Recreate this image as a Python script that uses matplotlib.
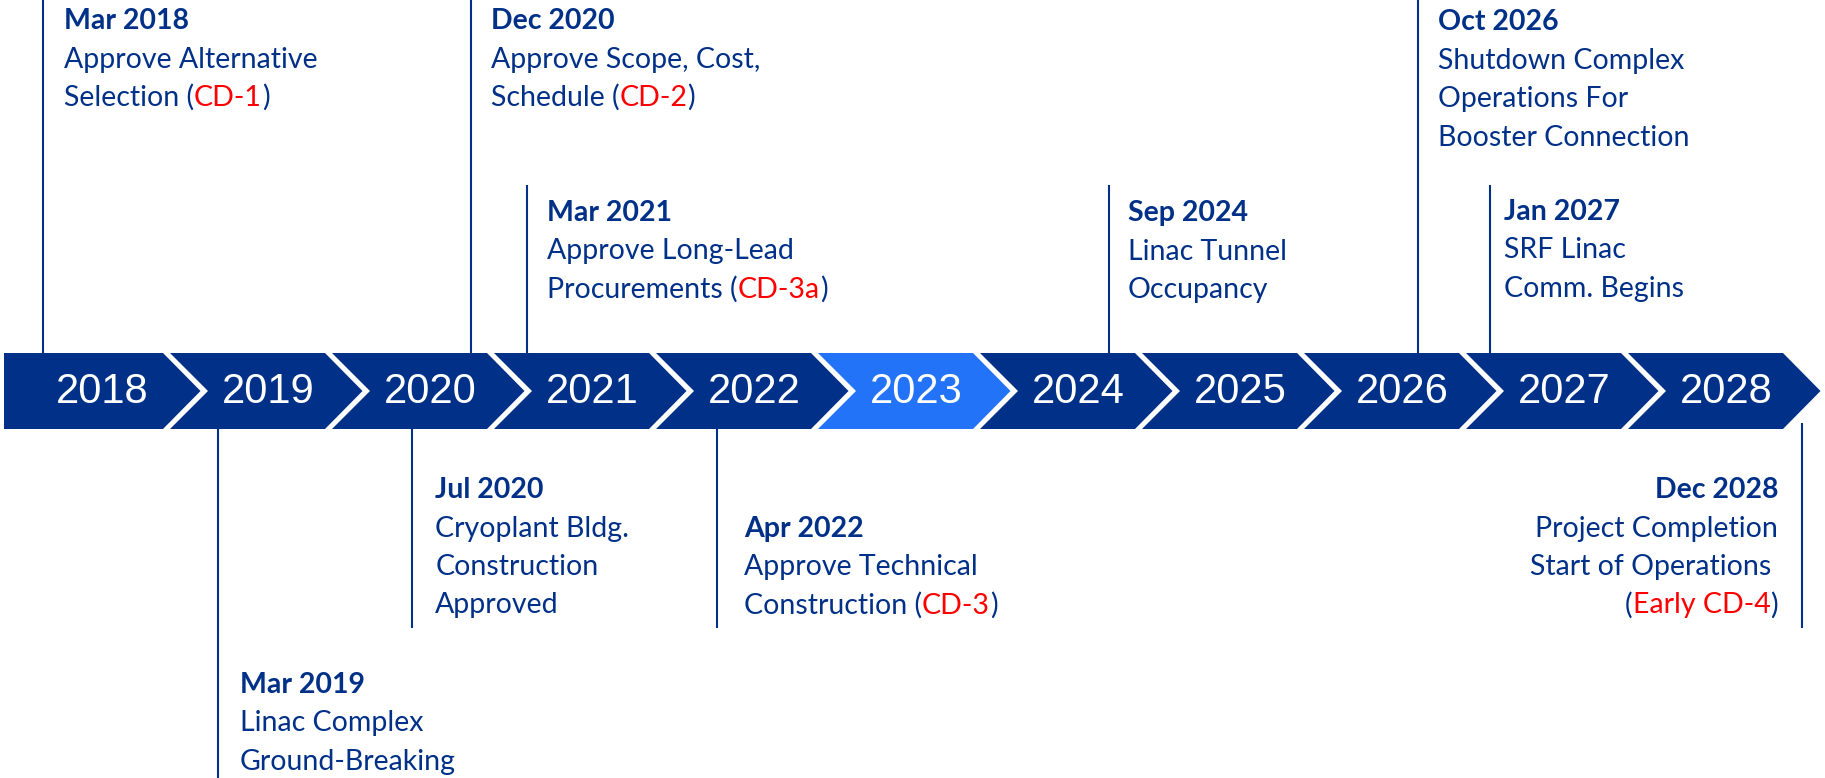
import matplotlib
matplotlib.use("Agg")
import matplotlib.pyplot as plt
from matplotlib.patches import Polygon

# ---- data ----
years = [2018, 2019, 2020, 2021, 2022, 2023, 2024, 2025, 2026, 2027, 2028]
highlight_year = 2023

# milestone position along the timeline, in years
ms_pos = [2018.24, 2019.32, 2020.52, 2020.88, 2021.23, 2022.40,
          2024.82, 2026.73, 2027.17, 2029.10]
ms_date = ["Mar 2018", "Mar 2019", "Jul 2020", "Dec 2020", "Mar 2021",
           "Apr 2022", "Sep 2024", "Oct 2026", "Jan 2027", "Dec 2028"]
# description lines; each line is a list of (text, is_cd) pieces
ms_text = [
    [[("Approve Alternative", False)],
     [("Selection (", False), ("CD-1", True), (")", False)]],
    [[("Linac Complex", False)], [("Ground-Breaking", False)]],
    [[("Cryoplant Bldg.", False)], [("Construction", False)], [("Approved", False)]],
    [[("Approve Scope, Cost,", False)],
     [("Schedule (", False), ("CD-2", True), (")", False)]],
    [[("Approve Long-Lead", False)],
     [("Procurements (", False), ("CD-3a", True), (")", False)]],
    [[("Approve Technical", False)],
     [("Construction (", False), ("CD-3", True), (")", False)]],
    [[("Linac Tunnel", False)], [("Occupancy", False)]],
    [[("Shutdown Complex", False)], [("Operations For", False)],
     [("Booster Connection", False)]],
    [[("SRF Linac", False)], [("Comm. Begins", False)]],
    [[("Project Completion", False)], [("Start of Operations ", False)],
     [("(", False), ("Early CD-4", True), (")", False)]],
]

# ---- layout (pixels) ----
PX = 162.0            # pixels per year
X0 = 4.0              # left edge of the first chevron
W, H = 1825, 778
TOP, BOT = 353, 429
MID = (TOP + BOT) / 2

# vertical line extent and text first-baseline per milestone
line_y = [(0, TOP), (BOT, H), (BOT, 628), (0, TOP), (185, TOP), (BOT, 628),
          (185, TOP), (0, TOP), (185, TOP), (423, 628)]
first_base = [29, 693, 498, 29, 221, 537, 221, 30, 220, 498]
text_dx = [21, 22, 23, 20, 20, 27, 19, 20, 14, -24]
LINE_STEP = 38.5

NAVY = "#003087"
LIGHT = "#2273F8"
RED = "#FF0000"
FONT = "Lato"
FS = 20.5

fig = plt.figure(figsize=(W / 100, H / 100), dpi=100)
ax = fig.add_axes([0, 0, 1, 1])
ax.set_xlim(years[0] - X0 / PX, years[0] + (W - X0) / PX)
ax.set_ylim(H, 0)
ax.axis("off")

# chevrons
for i, yr in enumerate(years):
    if i == 0:
        rel = [(0, TOP), (159, TOP), (196.5, MID), (159, BOT), (0, BOT)]
        cx = 98
    else:
        rel = [(4, TOP), (159, TOP), (196.5, MID), (159, BOT), (4, BOT), (42, MID)]
        cx = 102
    pts = [(yr + px / PX, y) for px, y in rel]
    col = LIGHT if yr == highlight_year else NAVY
    ax.add_patch(Polygon(pts, closed=True, facecolor=col, edgecolor="none"))
    ax.text(yr + cx / PX, 403, str(yr), color="white", fontsize=30,
            family="Liberation Sans", ha="center", va="baseline")

fig.canvas.draw()
renderer = fig.canvas.get_renderer()
inv = ax.transData.inverted()


def draw_line(x, y, pieces, align, bold=False):
    seq = pieces if align == "left" else list(reversed(pieces))
    for txt, is_cd in seq:
        t = ax.text(x, y, txt, color=RED if is_cd else NAVY, fontsize=FS,
                    family=FONT, fontweight="bold" if bold else "normal",
                    ha=align, va="baseline")
        bb = t.get_window_extent(renderer)
        if align == "left":
            x = inv.transform((bb.x1, 0))[0]
        else:
            x = inv.transform((bb.x0, 0))[0]


for k in range(len(ms_pos)):
    xp = ms_pos[k]
    y0, y1 = line_y[k]
    ax.plot([xp, xp], [y0, y1], color=NAVY, lw=1.5, solid_capstyle="butt")
    align = "left" if text_dx[k] > 0 else "right"
    tx = xp + text_dx[k] / PX
    yb = first_base[k]
    draw_line(tx, yb, [(ms_date[k], False)], align, bold=True)
    for j, ln in enumerate(ms_text[k]):
        draw_line(tx, yb + (j + 1) * LINE_STEP, ln, align)

fig.savefig("out.png", dpi=100)
